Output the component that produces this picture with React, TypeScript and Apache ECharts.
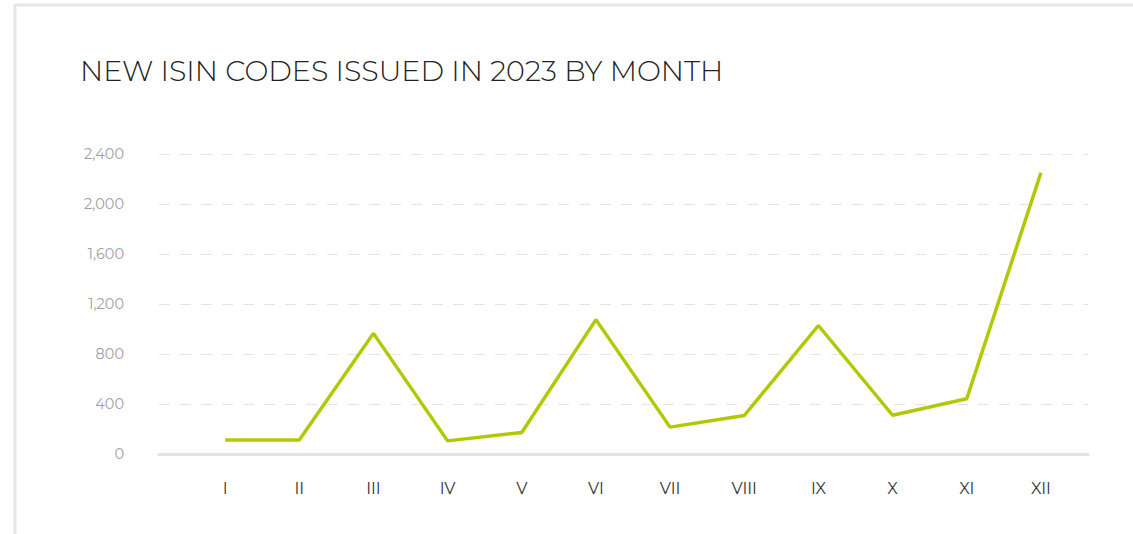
import React, { useEffect, useRef } from "react";
import * as echarts from "echarts";

const months = ["I", "II", "III", "IV", "V", "VI", "VII", "VIII", "IX", "X", "XI", "XII"];
const issued = [112, 112, 965, 105, 172, 1075, 215, 308, 1028, 310, 442, 2250];
const yTicks = [0, 400, 800, 1200, 1600, 2000, 2400];
const title = "NEW ISIN CODES ISSUED IN 2023 BY MONTH";

export default function App() {
  const ref = useRef<HTMLDivElement>(null);
  useEffect(() => {
    if (!ref.current) return;
    const chart = echarts.init(ref.current, undefined, { renderer: "svg" });
    const font = "Montserrat, 'Open Sans', sans-serif";
    chart.setOption({
      animation: false,
      backgroundColor: "#ffffff",
      title: {
        text: title,
        left: 75,
        top: 51,
        textStyle: { fontFamily: font, fontWeight: 300, fontSize: 28.5, color: "#222222" },
      },
      graphic: [
        {
          type: "rect",
          shape: { x: 15, y: 5, width: 1300, height: 700 },
          style: { fill: "none", stroke: "#e4e8eb", lineWidth: 3 },
          silent: true,
          z: -1,
        },
      ],
      grid: [
        { left: 159, right: 45, top: 154, bottom: 80 },
        { left: 188, right: 55, top: 154, bottom: 80 },
      ],
      xAxis: [
        {
          gridIndex: 0,
          type: "category",
          data: months,
          axisLine: { show: true, lineStyle: { color: "#e2e2e2", width: 3 } },
          axisTick: { show: false },
          axisLabel: { show: false },
          splitLine: { show: false },
        },
        {
          gridIndex: 1,
          type: "category",
          data: months,
          boundaryGap: true,
          axisLine: { show: false },
          axisTick: { show: false },
          axisLabel: { color: "#333333", fontSize: 16, fontFamily: font, margin: 26 },
          splitLine: { show: false },
        },
      ],
      yAxis: [
        {
          gridIndex: 0,
          type: "value",
          min: 0,
          max: 2400,
          interval: 400,
          axisLine: { show: false },
          axisTick: { show: false },
          axisLabel: {
            color: "#a0a0a0",
            fontSize: 14.5,
            fontFamily: font,
            margin: 35,
            formatter: (v: number) => (yTicks.includes(v) ? v.toLocaleString("en-US") : ""),
          },
          splitLine: { show: true, lineStyle: { color: "#e4e4e4", width: 1, type: [11, 10] } },
        },
        {
          gridIndex: 1,
          type: "value",
          min: 0,
          max: 2400,
          interval: 400,
          axisLine: { show: false },
          axisTick: { show: false },
          axisLabel: { show: false },
          splitLine: { show: false },
        },
      ],
      series: [
        {
          type: "line",
          xAxisIndex: 1,
          yAxisIndex: 1,
          data: issued,
          symbol: "none",
          lineStyle: { color: "#b1c905", width: 3.5 },
          itemStyle: { color: "#b1c905" },
        },
      ],
    });
    return () => chart.dispose();
  }, []);
  return <div ref={ref} style={{ position: "fixed", left: 0, top: 0, width: 1133, height: 534 }} />;
}
